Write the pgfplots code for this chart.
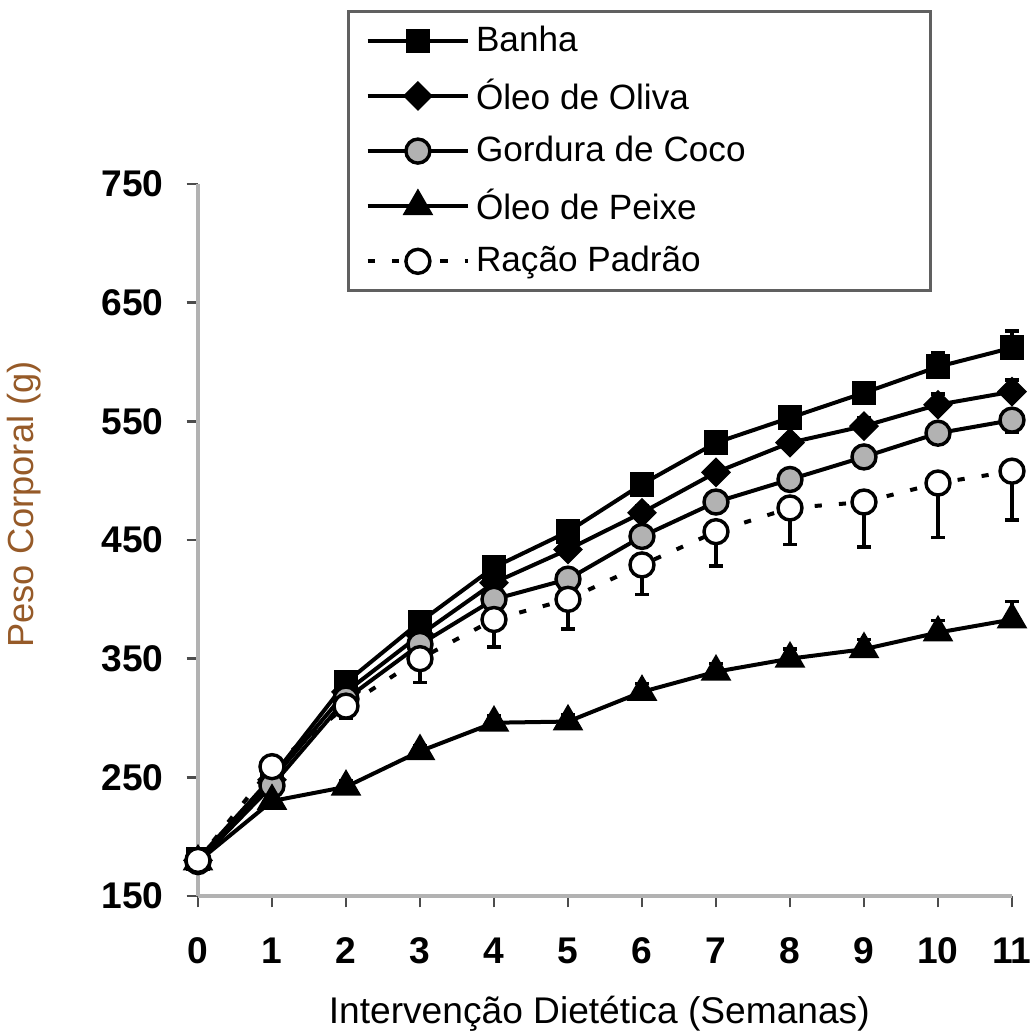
\documentclass[border=0pt]{standalone}
\usepackage{pgfplots}
\pgfplotsset{compat=1.18}
\usepackage{fontspec}
\setmainfont{Liberation Sans}
\usetikzlibrary{calc}
\definecolor{ylab}{RGB}{150,90,40}
\begin{document}
\begin{tikzpicture}
\begin{axis}[
  name=ax,
  scale only axis,
  width=284.9pt, height=249.2pt,
  xmin=0, xmax=11, ymin=150, ymax=750,
  clip=false,
  axis x line*=bottom, axis y line*=left,
  axis line style={gray!60, line width=1.2pt, -},
  xtick={0,...,11}, ytick={150,250,...,750},
  tick align=outside, major tick length=4pt,
  tick style={gray!60!black, line width=1pt},
  /pgf/number format/assume math mode=true,
  ticklabel style={font=\fontsize{13}{15}\selectfont\bfseries},
  xticklabel style={yshift=-7pt},
  yticklabel style={xshift=-4.5pt, /pgf/number format/1000 sep={}},
  xlabel={Intervenção Dietética (Semanas)},
  ylabel={Peso Corporal (g)},
  xlabel style={font=\fontsize{13}{15}\selectfont, at={(axis description cs:0.493,-0.166)}, anchor=center},
  ylabel style={font=\fontsize{12.7}{15}\selectfont, color=ylab, at={(axis description cs:-0.213,0.55)}, anchor=center},
  legend style={at={(axis description cs:0.183,1.244)}, anchor=north west,
    draw=gray!75!black, line width=1pt, fill=white,
    font=\fontsize{12.3}{14}\selectfont, row sep=4pt,
    inner xsep=6pt, inner ysep=3pt,
    /tikz/every even column/.append style={column sep=3.5pt}},
  legend cell align=left,
  legend image code/.code={\draw[mark repeat=2,mark phase=2] plot coordinates {(0cm,0cm) (0.62cm,0cm) (1.24cm,0cm)};},
  every axis plot/.append style={line width=1.4pt, black},
  error bars/error bar style={line width=1.2pt, solid},
  error bars/error mark options={rotate=90, mark size=2.3pt, line width=1.2pt, solid},
]
\addplot[mark=square*, mark size=3.6pt, mark options={solid, fill=black},
  error bars/.cd, y dir=plus, y explicit] coordinates {
  (0,181) +- (0,5) (1,250) +- (0,5) (2,330) +- (0,5) (3,381) +- (0,6)
  (4,427) +- (0,6) (5,457) +- (0,6) (6,497) +- (0,6) (7,532) +- (0,8)
  (8,553) +- (0,8) (9,574) +- (0,8) (10,596) +- (0,12) (11,612) +- (0,14)};
\addlegendentry{\makebox[151pt][l]{Banha}}
\addplot[mark=square*, mark size=3pt, mark options={solid, fill=black, rotate=45},
  error bars/.cd, y dir=plus, y explicit] coordinates {
  (0,180) +- (0,4) (1,248) +- (0,4) (2,322) +- (0,4) (3,370) +- (0,5)
  (4,414) +- (0,5) (5,442) +- (0,5) (6,473) +- (0,6) (7,507) +- (0,6)
  (8,532) +- (0,6) (9,546) +- (0,7) (10,564) +- (0,9) (11,575) +- (0,10)};
\addlegendentry{Óleo de Oliva}
\addplot[mark=*, mark size=4.2pt, mark options={solid, fill=gray!60, draw=black, line width=1.2pt},
  error bars/.cd, y dir=minus, y explicit] coordinates {
  (0,179) +- (0,4) (1,243) +- (0,4) (2,316) +- (0,5) (3,362) +- (0,5)
  (4,400) +- (0,5) (5,417) +- (0,6) (6,453) +- (0,6) (7,482) +- (0,6)
  (8,501) +- (0,7) (9,520) +- (0,7) (10,540) +- (0,8) (11,551) +- (0,10)};
\addlegendentry{Gordura de Coco}
\addplot[mark=triangle*, mark size=4.8pt, mark options={solid, fill=black},
  error bars/.cd, y dir=plus, y explicit] coordinates {
  (0,179) +- (0,4) (1,230) +- (0,5) (2,242) +- (0,5) (3,272) +- (0,5)
  (4,296) +- (0,6) (5,297) +- (0,6) (6,322) +- (0,7) (7,339) +- (0,7)
  (8,350) +- (0,8) (9,358) +- (0,8) (10,372) +- (0,10) (11,383) +- (0,15)};
\addlegendentry{Óleo de Peixe}
\addplot[dash pattern=on 2.5pt off 6pt, mark=*, mark size=4.2pt, mark options={solid, fill=white, draw=black, line width=1.2pt},
  error bars/.cd, y dir=minus, y explicit] coordinates {
  (0,180) +- (0,5) (1,259) +- (0,8) (2,310) +- (0,10) (3,350) +- (0,20)
  (4,383) +- (0,23) (5,400) +- (0,25) (6,429) +- (0,25) (7,457) +- (0,29)
  (8,477) +- (0,31) (9,482) +- (0,38) (10,498) +- (0,46) (11,508) +- (0,41)};
\addlegendentry{Ração Padrão}
\end{axis}
\pgfresetboundingbox
\path[use as bounding box] ($(ax.south west)+(-69.3pt,-48.3pt)$) rectangle ($(ax.north east)+(8.05pt,64.4pt)$);
\end{tikzpicture}
\end{document}
